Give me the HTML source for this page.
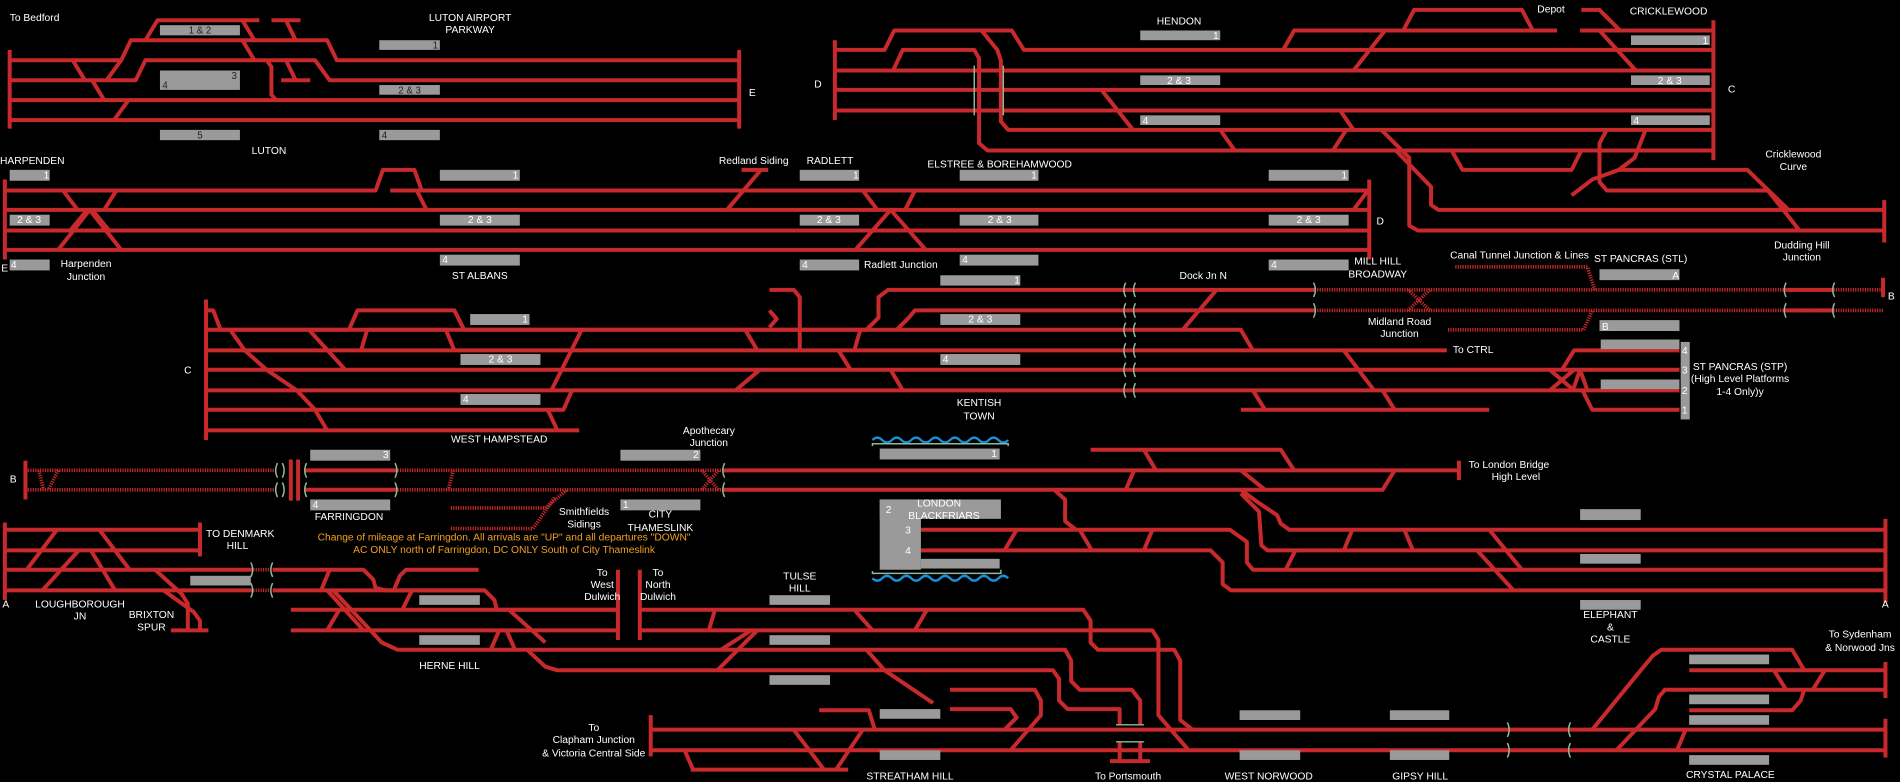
<!DOCTYPE html>
<html><head><meta charset="utf-8"><style>
html,body{margin:0;padding:0;background:#000;}
svg{display:block}
.r{stroke:#c8292c;stroke-width:3.3;fill:none;stroke-linejoin:round}
.d{stroke:#c8292c;stroke-width:3;fill:none;stroke-dasharray:1 1}
.g{stroke:#8fb89a;stroke-width:1.2;fill:none}
.p{fill:#9a9a9a}
text{font-family:"Liberation Sans Narrow","Liberation Sans",sans-serif;font-size:8.5px;fill:#fff}
.m{text-anchor:middle}
.k{fill:#222;font-size:8px}
.o{fill:#f0a020;text-anchor:middle}
</style></head><body>
<svg width="1900" height="782" viewBox="0 0 1568 645" xmlns="http://www.w3.org/2000/svg">
<rect width="1568" height="645" fill="#000"/>

<!-- LUTON -->
<g class="r">
<path d="M8 41V106M610 41V106"/>
<path d="M8 49.5H100L108 33H270L278 49.5H610"/>
<path d="M8 66H112L120 49.5H260L272 66H610"/>
<path d="M8 82.5H610M8 99H610"/>
<path d="M120 33L130 16.5H214M200 16.5L210 33M224 16.5H248M236 16.5L244 33"/>
<path d="M200 33L210 49.5M220 49.5L224 55V78L228 82.5M232 66H256M236 49.5L244 66"/>
<path d="M60 49.5L70 66M100 49.5L88 66M76 66L86 82.5M106 82.5L94 99"/>
</g>
<rect class="p" x="132" y="20.6" width="66" height="8.4"/><rect class="p" x="132" y="58" width="66" height="16"/>
<rect class="p" x="313" y="33" width="50" height="8"/><rect class="p" x="313" y="70" width="50" height="8"/>
<rect class="p" x="132" y="107" width="66" height="8.5"/><rect class="p" x="313" y="107" width="50" height="8.5"/>
<text class="k m" x="165" y="27.5">1 &amp; 2</text><text class="k" x="191" y="65">3</text><text class="k" x="134" y="73">4</text>
<text class="k" x="357" y="40">1</text><text class="k m" x="338" y="77">2 &amp; 3</text><text class="k m" x="165" y="114">5</text><text class="k" x="315" y="114">4</text>
<text x="8" y="17">To Bedford</text><text class="m" x="388" y="17">LUTON AIRPORT</text><text class="m" x="388" y="27">PARKWAY</text>
<text class="m" x="222" y="127">LUTON</text><text x="618" y="79">E</text>

<!-- HARPENDEN - MILL HILL -->
<g class="r">
<path d="M4 148V214M1130 148V214"/>
<path d="M4 157H310L316 140H342L348 157M322 157H1130"/>
<path d="M4 173H1130M4 190H1130M4 206H1130"/>
<path d="M344 157L352 173M52 157L64 173M96 157L86 173M48 206L74 173L100 206M58 190L72 173M76 173L90 190"/>
<path d="M612 140H634M628 140L600 173"/>
<path d="M712 157L724 173M755 157L747 173M706 206L735 173L764 206M1117 173L1129 157"/>
</g>
<rect class="p" x="8" y="140" width="33" height="9"/><rect class="p" x="8" y="177" width="33" height="9"/><rect class="p" x="8" y="214" width="33" height="9"/>
<rect class="p" x="363" y="140" width="66" height="9"/><rect class="p" x="363" y="177" width="66" height="9"/><rect class="p" x="363" y="210" width="66" height="9"/>
<rect class="p" x="660" y="140" width="49" height="9"/><rect class="p" x="660" y="177" width="49" height="9"/><rect class="p" x="660" y="214" width="49" height="9"/>
<rect class="p" x="792" y="140" width="65" height="9"/><rect class="p" x="792" y="177" width="65" height="9"/><rect class="p" x="792" y="210" width="65" height="9"/>
<rect class="p" x="1047" y="140" width="66" height="9"/><rect class="p" x="1047" y="177" width="66" height="9"/><rect class="p" x="1047" y="214" width="66" height="9"/>
<rect class="p" x="776" y="227" width="66" height="8.5"/>
<g class="k">
<text x="36" y="147">1</text><text class="m" x="24" y="184">2 &amp; 3</text><text x="9" y="221">4</text>
<text x="423" y="147">1</text><text class="m" x="396" y="184">2 &amp; 3</text><text x="365" y="217">4</text>
<text x="704" y="147">1</text><text class="m" x="684" y="184">2 &amp; 3</text><text x="662" y="221">4</text>
<text x="851" y="147">1</text><text class="m" x="825" y="184">2 &amp; 3</text><text x="794" y="217">4</text>
<text x="1107" y="147">1</text><text class="m" x="1080" y="184">2 &amp; 3</text><text x="1049" y="221">4</text>
<text x="837" y="234">1</text></g>
<text x="0" y="135">HARPENDEN</text><text class="m" x="71" y="220">Harpenden</text><text class="m" x="71" y="231">Junction</text><text x="1" y="224">E</text>
<text class="m" x="396" y="230">ST ALBANS</text><text class="m" x="622" y="135">Redland Siding</text><text class="m" x="685" y="135">RADLETT</text>
<text class="m" x="825" y="138">ELSTREE &amp; BOREHAMWOOD</text><text x="713" y="221">Radlett Junction</text><text x="1136" y="185">D</text>
<text class="m" x="1137" y="218">MILL HILL</text><text class="m" x="1137" y="229">BROADWAY</text>

<!-- HENDON / CRICKLEWOOD -->
<g class="r">
<path d="M689 33V99M1414 16.5V132"/>
<path d="M689 41H730L738 25H835L845 41H1414"/>
<path d="M689 58H737L745 41H804L808 48V118L815 124H1414"/>
<path d="M810 25L823 41L826 50V100L832 107H1414"/>
<path d="M689 58H1414M689 74H1414M689 91H1414"/>
<path d="M1059 41L1068 25H1285M1158 25L1167 8H1256L1265 25M1305 8H1320L1337 25M1304 25H1414M1320 25L1350 58M1143 25L1117 58"/>
<path d="M909 74L935 107M1106 91L1117 107M1007 107L1019 124M1111 107L1100 124"/>
<path d="M1140 107L1163 130V186L1170 190H1555M1152 124L1181 154V169L1187 173H1555M1555 165V200"/>
<path d="M1198 124L1207 140H1297L1305 124"/>
<path d="M1326 107L1320 118V150L1326 157H1459L1485 190M1358 107L1349 130L1336 140H1442L1476 173M1297 161L1314 148L1336 140"/>
</g>
<path class="g" d="M804 54V95M828 54V95" stroke="#aaa"/>
<rect class="p" x="941" y="25" width="66" height="8"/><rect class="p" x="941" y="62" width="66" height="8"/><rect class="p" x="941" y="95" width="66" height="8"/>
<rect class="p" x="1346" y="29" width="65" height="8"/><rect class="p" x="1346" y="62" width="65" height="8"/><rect class="p" x="1346" y="95" width="65" height="8"/>
<g class="k"><text x="1001" y="32">1</text><text class="m" x="973" y="69">2 &amp; 3</text><text x="943" y="102">4</text>
<text x="1405" y="36">1</text><text class="m" x="1378" y="69">2 &amp; 3</text><text x="1348" y="102">4</text></g>
<text class="m" x="973" y="20">HENDON</text><text class="m" x="1280" y="10">Depot</text><text class="m" x="1377" y="12">CRICKLEWOOD</text>
<text x="672" y="72">D</text><text x="1426" y="76">C</text>
<text class="m" x="1480" y="130">Cricklewood</text><text class="m" x="1480" y="140">Curve</text>
<text class="m" x="1487" y="205">Dudding Hill</text><text class="m" x="1487" y="215">Junction</text>

<!-- WEST HAMPSTEAD / KENTISH TOWN / ST PANCRAS -->
<g class="r">
<path d="M170 247V363"/>
<path d="M170 256H176L182 272H288L295 256H375L383 272H715L725 262V245L733 239H1085"/>
<path d="M298 289L303 272H368L375 289"/>
<path d="M740 272L750 262L755 256H1085"/>
<path d="M170 272H1024L1034 289"/>
<path d="M170 289H1194M170 305H1386M170 322H1386"/>
<path d="M170 338H465L472 322M170 355H478M1024 338H1229"/>
<path d="M635 239H655L660 245V289M635 256L641 263L635 270"/>
<path d="M190 272L202 289L220 305L245 322L260 338L270 355M255 272L285 305M480 272L455 322M452 338L460 355M615 272L625 289M627 305L607 322M692 289L702 305M735 305L745 322M705 289L710 272"/>
<path d="M1004 239L976 272M1109 289L1134 322M1034 322L1044 338M1141 322L1151 338"/>
<path d="M1386 289H1299L1289 305M1279 305L1299 322M1279 322L1299 305M1306 322L1314 338H1386M1298 322L1304 305L1310 322"/>
<path d="M1474 239H1514M1474 256H1514M1554 229V245"/>
</g>
<path class="d" d="M1085 239H1554M1085 256H1554M1201 220H1310L1316 239M1195 272H1307L1314 256M1162 239L1180 256M1180 239L1162 256"/>
<path class="g" d="M929 233Q926 239 929 245M937 233Q934 239 937 245M929 250Q926 256 929 262M937 250Q934 256 937 262M929 266Q926 272 929 278M937 266Q934 272 937 278M929 283Q926 289 929 295M937 283Q934 289 937 295M929 299Q926 305 929 311M937 299Q934 305 937 311M929 316Q926 322 929 328M937 316Q934 322 937 328M1084 233Q1087 239 1084 245M1084 250Q1087 256 1084 262M1474 233Q1471 239 1474 245M1474 250Q1471 256 1474 262M1514 233Q1511 239 1514 245M1514 250Q1511 256 1514 262"/>
<rect class="p" x="388" y="259" width="49" height="9"/><rect class="p" x="380" y="292" width="66" height="9"/><rect class="p" x="380" y="325" width="66" height="9"/>
<rect class="p" x="776" y="259" width="66" height="9"/><rect class="p" x="776" y="292" width="66" height="9"/>
<rect class="p" x="1320" y="222" width="66" height="9"/><rect class="p" x="1320" y="264" width="66" height="9"/>
<rect class="p" x="1321" y="280" width="65" height="8"/><rect class="p" x="1321" y="313" width="65" height="8"/><rect class="p" x="1387" y="282" width="7.5" height="64"/>
<g class="k"><text x="431" y="266">1</text><text class="m" x="413" y="299">2 &amp; 3</text><text x="382" y="332">4</text>
<text class="m" x="809" y="266">2 &amp; 3</text><text x="778" y="299">4</text><text x="1380" y="230">A</text><text x="1322" y="272">B</text>
<text x="1388" y="292">4</text><text x="1388" y="308">3</text><text x="1388" y="325">2</text><text x="1388" y="341">1</text></g>
<text x="152" y="308">C</text><text class="m" x="412" y="365">WEST HAMPSTEAD</text><text class="m" x="808" y="335">KENTISH</text><text class="m" x="808" y="346">TOWN</text>
<text class="m" x="993" y="230">Dock Jn N</text><text x="1199" y="291">To CTRL</text>
<text class="m" x="1155" y="268">Midland Road</text><text class="m" x="1155" y="278">Junction</text>
<text class="m" x="1254" y="213">Canal Tunnel Junction &amp; Lines</text><text class="m" x="1354" y="216">ST PANCRAS (STL)</text>
<text x="1558" y="247">B</text>
<text class="m" x="1436" y="305">ST PANCRAS (STP)</text><text class="m" x="1436" y="315">(High Level Platforms</text><text class="m" x="1436" y="326">1-4 Only)y</text>

<!-- FARRINGDON / BLACKFRIARS -->
<g class="r">
<path d="M21 380V412M240 379V413M246 379V413"/>
<path d="M252 388H326M252 404H326M596 388H1204M1204 380V396M596 404H1141L1151 388"/>
<path d="M900 371H1057L1068 388M944 371L954 388M929 404L936 388M1024 388L1044 404"/>
<path d="M1024 404L1039 415L1054 425L1057 432L1064 437H1556M1024 407L1039 422L1041 450L1046 454H1556"/>
<path d="M760 437H1015L1029 447V464L1034 470H1556M760 454H999L1009 464V482L1016 487H1556M870 404L879 412V430L888 437M1556 428V497"/>
<path d="M839 437L829 454M891 437L901 454M951 437L944 454M1116 437L1109 454M1159 437L1166 454M1229 437L1256 470M1219 454L1249 487M1069 454L1061 470"/>
</g>
<path class="d" d="M21 388H229M21 404H229M326 388H596M326 404H596M48 388L40 404M32 388L36 404M374 388L370 404M372 419H450L468 404M372 436H440L458 410M579 388L593 404M593 388L579 404"/>
<path class="g" d="M229 382Q226 388 229 394M233 382Q236 388 233 394M229 398Q226 404 229 410M233 398Q236 404 233 410M253 382Q250 388 253 394M253 398Q250 404 253 410M326 382Q329 388 326 394M326 398Q329 404 326 410M598 382Q595 388 598 394M598 398Q595 404 598 410"/>
<rect class="p" x="256" y="371" width="66" height="9"/><rect class="p" x="256" y="412" width="66" height="9"/>
<rect class="p" x="512" y="371" width="66" height="9"/><rect class="p" x="512" y="412" width="66" height="9"/>
<rect class="p" x="726" y="370" width="99" height="9"/>
<rect class="p" x="726" y="412" width="100" height="16"/><rect class="p" x="726" y="412" width="34" height="58"/><rect class="p" x="760" y="461" width="65" height="8"/>
<rect class="p" x="1304" y="420" width="50" height="9"/><rect class="p" x="1304" y="457" width="50" height="8"/><rect class="p" x="1304" y="495" width="50" height="8"/>
<path d="M720 363q4-4 8 0t8 0t8 0t8 0t8 0t8 0t8 0t8 0t8 0t8 0t8 0t8 0t8 0t8 0" stroke="#1a8fd6" stroke-width="2" fill="none"/>
<path d="M720 477q4 4 8 0t8 0t8 0t8 0t8 0t8 0t8 0t8 0t8 0t8 0t8 0t8 0t8 0t8 0" stroke="#1a8fd6" stroke-width="2" fill="none"/>
<path class="g" d="M720 368V366H832V368M720 471V473H826V470"/>
<g class="k"><text x="316" y="378">3</text><text x="258" y="419">4</text><text x="572" y="378">2</text><text x="514" y="419">1</text><text x="818" y="377">1</text>
<text x="731" y="423">2</text><text x="747" y="440">3</text><text x="747" y="457">4</text>
<text class="m" x="775" y="418" style="font-size:8.5px">LONDON</text><text class="m" x="779" y="428" style="font-size:8.5px">BLACKFRIARS</text></g>
<text x="8" y="398">B</text><text class="m" x="288" y="429">FARRINGDON</text>
<text class="m" x="482" y="425">Smithfields</text><text class="m" x="482" y="435">Sidings</text>
<text class="m" x="545" y="427">CITY</text><text class="m" x="545" y="438">THAMESLINK</text>
<text class="m" x="585" y="358">Apothecary</text><text class="m" x="585" y="368">Junction</text>
<text x="1212" y="386">To London Bridge</text><text class="m" x="1251" y="396">High Level</text>
<text class="m" x="1329" y="510">ELEPHANT</text><text class="m" x="1329" y="520">&amp;</text><text class="m" x="1329" y="530">CASTLE</text><text x="1553" y="501">A</text>
<text class="o" x="416" y="446">Change of mileage at Farringdon.  All arrivals are "UP" and all departures "DOWN"</text>
<text class="o" x="416" y="456">AC ONLY north of Farringdon, DC ONLY South of City Thameslink</text>

<!-- LOUGHBOROUGH / HERNE HILL / TULSE HILL -->
<g class="r">
<path d="M4 431V495M165 431V459M4 437H165M4 454H165"/>
<path d="M4 470H207M4 487H207"/>
<path d="M225 470H300L308 478L310 485L318 487H400L408 495L410 503H510M325 487L330 475L335 470H395"/>
<path d="M225 487H400"/>
<path d="M240 503H510M240 520H510M510 470V528M528 470V528M528 503H784M528 520H784"/>
<path d="M22 470L47 437M82 437L107 470M35 487L65 454M75 454L95 487M128 470L150 490L155 498V520M135 487L160 505L165 512V520M141 520H172"/>
<path d="M272 470L265 487M270 487L300 520M280 503L270 520M275 487L315 530L328 536H784M332 503L340 487M420 503L450 530M405 536L412 520H418L425 536M435 536L450 550L460 553H784"/>
<path d="M585 520L590 503M595 536L620 520M592 553L625 520M705 503L720 520M715 536L730 553L770 580M755 520L765 503"/>
</g>
<path class="d" d="M207 470H225M207 487H225"/>
<path class="g" d="M207 464Q210 470 207 476M225 464Q222 470 225 476M207 481Q210 487 207 493M225 481Q222 487 225 493"/>
<rect class="p" x="157" y="475" width="50" height="8"/>
<rect class="p" x="346" y="491" width="50" height="8"/><rect class="p" x="346" y="524" width="50" height="8"/>
<rect class="p" x="635" y="491" width="50" height="8"/><rect class="p" x="635" y="524" width="50" height="8"/><rect class="p" x="635" y="557" width="50" height="8"/>
<text x="170" y="443">TO DENMARK</text><text class="m" x="196" y="453">HILL</text><text x="2" y="501">A</text>
<text class="m" x="66" y="501">LOUGHBOROUGH</text><text class="m" x="66" y="511">JN</text>
<text class="m" x="125" y="510">BRIXTON</text><text class="m" x="125" y="520">SPUR</text><text class="m" x="371" y="552">HERNE HILL</text>
<text class="m" x="497" y="475">To</text><text class="m" x="497" y="485">West</text><text class="m" x="497" y="495">Dulwich</text>
<text class="m" x="543" y="475">To</text><text class="m" x="543" y="485">North</text><text class="m" x="543" y="495">Dulwich</text>
<text class="m" x="660" y="478">TULSE</text><text class="m" x="660" y="488">HILL</text>

<!-- STREATHAM / NORWOOD / CRYSTAL PALACE -->
<g class="r">
<path d="M537 590V624M537 602H1556M537 619H1556M1556 546V576M1556 593V625"/>
<path d="M676 586H717L722 602M570 635H700M565 619L572 635M655 602L680 635H690L712 602"/>
<path d="M784 503H894L900 512V530L906 536H969L974 545V594L984 602"/>
<path d="M784 520H951L956 528V590L981 619"/>
<path d="M784 536H879L884 545V562L891 569H934L941 578V598M784 553H869L874 560V578L881 585H924V598"/>
<path d="M784 569H854L859 578V590L834 619M784 585H834L839 592L829 602"/>
<path d="M924 612V627M941 612V627M916 628H949"/>
<path d="M1314 602L1354 553L1364 541L1371 536H1479L1489 553H1556M1394 553H1556M1334 619L1366 585L1369 575L1374 569H1556M1394 586H1479L1486 578L1489 569M1464 553L1474 569M1506 553L1496 569M1391 602L1384 619"/>
</g>
<path class="g" d="M921 598H944M921 612H944"/>
<path class="d" d="M1246 602H1254M1246 619H1254M1292 602H1300M1292 619H1300"/>
<path class="g" d="M1244 596Q1247 602 1244 608M1244 613Q1247 619 1244 625M1296 596Q1293 602 1296 608M1296 613Q1293 619 1296 625"/>
<rect class="p" x="726" y="585" width="50" height="8"/><rect class="p" x="726" y="619" width="50" height="8"/>
<rect class="p" x="1023" y="586" width="50" height="8"/><rect class="p" x="1023" y="619" width="50" height="8"/>
<rect class="p" x="1147" y="586" width="49" height="8"/><rect class="p" x="1147" y="619" width="49" height="8"/>
<rect class="p" x="1394" y="540" width="66" height="8"/><rect class="p" x="1394" y="573" width="66" height="8"/><rect class="p" x="1394" y="590" width="66" height="8"/><rect class="p" x="1394" y="623" width="66" height="8"/>
<text class="m" x="490" y="603">To</text><text class="m" x="490" y="613">Clapham Junction</text><text class="m" x="490" y="624">&amp; Victoria Central Side</text>
<text class="m" x="751" y="643">STREATHAM HILL</text><text class="m" x="931" y="643">To Portsmouth</text><text class="m" x="1047" y="643">WEST NORWOOD</text>
<text class="m" x="1172" y="643">GIPSY HILL</text><text class="m" x="1428" y="642">CRYSTAL PALACE</text>
<text class="m" x="1535" y="526">To Sydenham</text><text class="m" x="1535" y="537">&amp; Norwood Jns</text>
</svg>
</body></html>
